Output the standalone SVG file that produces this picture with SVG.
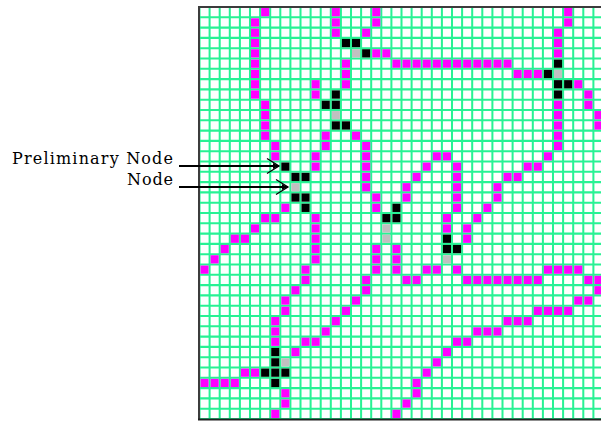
<svg xmlns="http://www.w3.org/2000/svg" xmlns:xlink="http://www.w3.org/1999/xlink" width="601" height="423" viewBox="0 0 601 423">
<style>
.lbl{font-family:"DejaVu Serif","Liberation Serif",serif;font-size:16px;fill:#000}
.grid{fill:none;stroke:#28f294;stroke-width:2}
.arrow{stroke:#000;stroke-width:2;fill:none}
</style>
<defs>
<rect id="m" width="8" height="8" fill="#ff00ff"/>
<rect id="b" width="8" height="8" fill="#000000"/>
<rect id="g" width="8" height="8" fill="#c0c0c0"/>
<marker id="ah" markerUnits="userSpaceOnUse" markerWidth="20" markerHeight="20" refX="14" refY="10" orient="auto" overflow="visible">
<path d="M2 2.5L14 10L2 17.5" fill="none" stroke="#000" stroke-width="1.3"/>
<path d="M8 7L14 10L8 13Z" fill="#000"/>
</marker>
</defs>
<rect width="601" height="423" fill="#fff"/>
<g id="board" transform="translate(199.5 7) scale(1.01 1.03)">
<path class="grid" d="M0 0V400M10 0V400M20 0V400M30 0V400M40 0V400M50 0V400M60 0V400M70 0V400M80 0V400M90 0V400M100 0V400M110 0V400M120 0V400M130 0V400M140 0V400M150 0V400M160 0V400M170 0V400M180 0V400M190 0V400M200 0V400M210 0V400M220 0V400M230 0V400M240 0V400M250 0V400M260 0V400M270 0V400M280 0V400M290 0V400M300 0V400M310 0V400M320 0V400M330 0V400M340 0V400M350 0V400M360 0V400M370 0V400M380 0V400M390 0V400M400 0V400"/>
<path class="grid" d="M0 0H400M0 10H400M0 20H400M0 30H400M0 40H400M0 50H400M0 60H400M0 70H400M0 80H400M0 90H400M0 100H400M0 110H400M0 120H400M0 130H400M0 140H400M0 150H400M0 160H400M0 170H400M0 180H400M0 190H400M0 200H400M0 210H400M0 220H400M0 230H400M0 240H400M0 250H400M0 260H400M0 270H400M0 280H400M0 290H400M0 300H400M0 310H400M0 320H400M0 330H400M0 340H400M0 350H400M0 360H400M0 370H400M0 380H400M0 390H400M0 400H400"/>
<g id="connectors">
<g transform="translate(0 1)"><use href="#m" x="61"/><use href="#m" x="131"/><use href="#m" x="171"/><use href="#m" x="361"/></g>
<g transform="translate(0 11)"><use href="#m" x="51"/><use href="#m" x="131"/><use href="#m" x="171"/><use href="#m" x="361"/></g>
<g transform="translate(0 21)"><use href="#m" x="51"/><use href="#m" x="131"/><use href="#m" x="161"/><use href="#m" x="351"/></g>
<g transform="translate(0 31)"><use href="#m" x="51"/><use href="#m" x="351"/></g>
<g transform="translate(0 41)"><use href="#m" x="51"/><use href="#m" x="171"/><use href="#m" x="181"/><use href="#m" x="351"/></g>
<g transform="translate(0 51)"><use href="#m" x="51"/><use href="#m" x="141"/><use href="#m" x="191"/><use href="#m" x="201"/><use href="#m" x="211"/><use href="#m" x="221"/><use href="#m" x="231"/><use href="#m" x="241"/><use href="#m" x="251"/><use href="#m" x="261"/><use href="#m" x="271"/><use href="#m" x="281"/><use href="#m" x="291"/><use href="#m" x="301"/></g>
<g transform="translate(0 61)"><use href="#m" x="51"/><use href="#m" x="141"/><use href="#m" x="311"/><use href="#m" x="321"/><use href="#m" x="331"/></g>
<g transform="translate(0 71)"><use href="#m" x="51"/><use href="#m" x="111"/><use href="#m" x="141"/><use href="#m" x="371"/></g>
<g transform="translate(0 81)"><use href="#m" x="51"/><use href="#m" x="111"/><use href="#m" x="381"/></g>
<g transform="translate(0 91)"><use href="#m" x="61"/><use href="#m" x="351"/><use href="#m" x="381"/></g>
<g transform="translate(0 101)"><use href="#m" x="61"/><use href="#m" x="351"/><use href="#m" x="391"/></g>
<g transform="translate(0 111)"><use href="#m" x="61"/><use href="#m" x="351"/><use href="#m" x="391"/></g>
<g transform="translate(0 121)"><use href="#m" x="61"/><use href="#m" x="121"/><use href="#m" x="151"/><use href="#m" x="351"/></g>
<g transform="translate(0 131)"><use href="#m" x="71"/><use href="#m" x="121"/><use href="#m" x="161"/><use href="#m" x="351"/></g>
<g transform="translate(0 141)"><use href="#m" x="71"/><use href="#m" x="111"/><use href="#m" x="161"/><use href="#m" x="231"/><use href="#m" x="241"/><use href="#m" x="341"/></g>
<g transform="translate(0 151)"><use href="#m" x="111"/><use href="#m" x="161"/><use href="#m" x="221"/><use href="#m" x="251"/><use href="#m" x="321"/><use href="#m" x="331"/></g>
<g transform="translate(0 161)"><use href="#m" x="161"/><use href="#m" x="211"/><use href="#m" x="251"/><use href="#m" x="301"/><use href="#m" x="311"/></g>
<g transform="translate(0 171)"><use href="#m" x="161"/><use href="#m" x="201"/><use href="#m" x="251"/><use href="#m" x="291"/></g>
<g transform="translate(0 181)"><use href="#m" x="171"/><use href="#m" x="201"/><use href="#m" x="251"/><use href="#m" x="291"/></g>
<g transform="translate(0 191)"><use href="#m" x="81"/><use href="#m" x="171"/><use href="#m" x="251"/><use href="#m" x="281"/></g>
<g transform="translate(0 201)"><use href="#m" x="61"/><use href="#m" x="71"/><use href="#m" x="111"/><use href="#m" x="241"/><use href="#m" x="271"/></g>
<g transform="translate(0 211)"><use href="#m" x="51"/><use href="#m" x="111"/><use href="#m" x="241"/><use href="#m" x="261"/></g>
<g transform="translate(0 221)"><use href="#m" x="31"/><use href="#m" x="41"/><use href="#m" x="111"/><use href="#m" x="261"/></g>
<g transform="translate(0 231)"><use href="#m" x="21"/><use href="#m" x="111"/><use href="#m" x="171"/><use href="#m" x="191"/></g>
<g transform="translate(0 241)"><use href="#m" x="11"/><use href="#m" x="111"/><use href="#m" x="171"/><use href="#m" x="191"/></g>
<g transform="translate(0 251)"><use href="#m" x="1"/><use href="#m" x="101"/><use href="#m" x="171"/><use href="#m" x="191"/><use href="#m" x="221"/><use href="#m" x="231"/><use href="#m" x="251"/><use href="#m" x="341"/><use href="#m" x="351"/><use href="#m" x="361"/><use href="#m" x="371"/></g>
<g transform="translate(0 261)"><use href="#m" x="101"/><use href="#m" x="161"/><use href="#m" x="201"/><use href="#m" x="211"/><use href="#m" x="261"/><use href="#m" x="271"/><use href="#m" x="281"/><use href="#m" x="291"/><use href="#m" x="301"/><use href="#m" x="311"/><use href="#m" x="321"/><use href="#m" x="331"/><use href="#m" x="381"/><use href="#m" x="391"/></g>
<g transform="translate(0 271)"><use href="#m" x="91"/><use href="#m" x="161"/><use href="#m" x="391"/></g>
<g transform="translate(0 281)"><use href="#m" x="81"/><use href="#m" x="151"/><use href="#m" x="371"/><use href="#m" x="381"/></g>
<g transform="translate(0 291)"><use href="#m" x="81"/><use href="#m" x="141"/><use href="#m" x="331"/><use href="#m" x="341"/><use href="#m" x="351"/><use href="#m" x="361"/></g>
<g transform="translate(0 301)"><use href="#m" x="71"/><use href="#m" x="131"/><use href="#m" x="301"/><use href="#m" x="311"/><use href="#m" x="321"/></g>
<g transform="translate(0 311)"><use href="#m" x="71"/><use href="#m" x="121"/><use href="#m" x="271"/><use href="#m" x="281"/><use href="#m" x="291"/></g>
<g transform="translate(0 321)"><use href="#m" x="71"/><use href="#m" x="101"/><use href="#m" x="111"/><use href="#m" x="251"/><use href="#m" x="261"/></g>
<g transform="translate(0 331)"><use href="#m" x="91"/><use href="#m" x="241"/></g>
<g transform="translate(0 341)"><use href="#m" x="231"/></g>
<g transform="translate(0 351)"><use href="#m" x="41"/><use href="#m" x="51"/><use href="#m" x="221"/></g>
<g transform="translate(0 361)"><use href="#m" x="1"/><use href="#m" x="11"/><use href="#m" x="21"/><use href="#m" x="31"/><use href="#m" x="211"/></g>
<g transform="translate(0 371)"><use href="#m" x="81"/><use href="#m" x="211"/></g>
<g transform="translate(0 381)"><use href="#m" x="81"/><use href="#m" x="201"/></g>
<g transform="translate(0 391)"><use href="#m" x="71"/><use href="#m" x="191"/></g>
</g>
<g id="node-a"><use href="#b" x="141" y="31"/><use href="#b" x="151" y="31"/><use href="#g" x="151" y="41"/><use href="#b" x="161" y="41"/></g>
<g id="node-b"><use href="#b" x="131" y="81"/><use href="#b" x="121" y="91"/><use href="#b" x="131" y="91"/><use href="#g" x="131" y="101"/><use href="#b" x="131" y="111"/><use href="#b" x="141" y="111"/></g>
<g id="node-c"><use href="#b" x="351" y="51"/><use href="#b" x="341" y="61"/><use href="#g" x="351" y="61"/><use href="#b" x="351" y="71"/><use href="#b" x="361" y="71"/><use href="#b" x="351" y="81"/></g>
<g id="node-d"><use href="#b" x="81" y="151"/><use href="#b" x="91" y="161"/><use href="#b" x="101" y="161"/><use href="#g" x="91" y="171"/><use href="#b" x="91" y="181"/><use href="#b" x="101" y="181"/><use href="#b" x="101" y="191"/></g>
<g id="node-e"><use href="#b" x="191" y="191"/><use href="#b" x="181" y="201"/><use href="#b" x="191" y="201"/><use href="#g" x="181" y="211"/><use href="#g" x="181" y="221"/></g>
<g id="node-f"><use href="#b" x="241" y="221"/><use href="#b" x="241" y="231"/><use href="#b" x="251" y="231"/><use href="#g" x="241" y="241"/></g>
<g id="node-g"><use href="#b" x="71" y="331"/><use href="#b" x="71" y="341"/><use href="#g" x="81" y="341"/><use href="#b" x="61" y="351"/><use href="#b" x="71" y="351"/><use href="#b" x="81" y="351"/><use href="#b" x="71" y="361"/></g>
</g>
<g id="frame">
<path d="M199 419V7H603" fill="none" stroke="#3c3c3c" stroke-width="2"/>
<path d="M198 419.5H603" fill="none" stroke="#202020" stroke-width="2"/>
</g>
<g id="labels">
<text class="lbl" x="173" y="163.5" text-anchor="end" textLength="161" lengthAdjust="spacing">Preliminary Node</text>
<text class="lbl" x="173" y="185" text-anchor="end" textLength="46" lengthAdjust="spacing">Node</text>
</g>
<g id="arrows">
<path class="arrow" d="M179 166H279" marker-end="url(#ah)"/>
<path class="arrow" d="M179 187H288" marker-end="url(#ah)"/>
</g>
</svg>
